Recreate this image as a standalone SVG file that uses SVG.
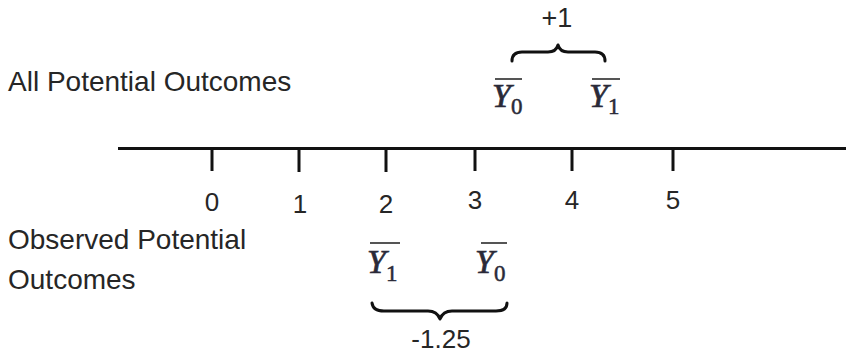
<svg xmlns="http://www.w3.org/2000/svg" width="846" height="356" viewBox="0 0 846 356">
<style>
.lbl{font-family:"Liberation Sans","Open Sans",sans-serif;font-size:28px;fill:#262626}
.num{font-family:"Liberation Sans","Open Sans",sans-serif;font-size:26px;fill:#262626;text-anchor:middle}
.y{font-family:"Liberation Serif","DejaVu Serif",serif;font-style:italic;font-size:34px;fill:#2a2a38;stroke:#2a2a38;stroke-width:0.7}
.sub{font-family:"Liberation Serif","DejaVu Serif",serif;font-size:23px;fill:#2a2a38;stroke:#2a2a38;stroke-width:0.5}
.bar{stroke:#555;stroke-width:2}
.ax{stroke:#111;stroke-width:3;fill:none}
.brace{stroke:#111;stroke-width:3;fill:none;stroke-linecap:round;stroke-linejoin:round}
</style>
<rect width="846" height="356" fill="#fff"/>
<g id="labels">
<text class="lbl" x="8" y="91">All Potential Outcomes</text>
<text class="lbl" x="8" y="249">Observed Potential</text>
<text class="lbl" x="8" y="289">Outcomes</text>
</g>
<g id="axis">
<line class="ax" x1="118" y1="148.5" x2="846" y2="148.5"/>
<line class="ax" x1="212" y1="148" x2="212" y2="171"/>
<line class="ax" x1="299" y1="148" x2="299" y2="172"/>
<line class="ax" x1="386" y1="148" x2="386" y2="172"/>
<line class="ax" x1="475" y1="148" x2="475" y2="171"/>
<line class="ax" x1="572" y1="148" x2="572" y2="171"/>
<line class="ax" x1="673" y1="148" x2="673" y2="171"/>
<text class="num" x="212" y="211">0</text>
<text class="num" x="300" y="213">1</text>
<text class="num" x="386" y="213">2</text>
<text class="num" x="475" y="209">3</text>
<text class="num" x="572" y="209">4</text>
<text class="num" x="673" y="209">5</text>
</g>
<g id="all-outcomes">
<g id="top-Y0">
<line class="bar" x1="495" y1="79" x2="522" y2="79"/>
<text class="y" x="492" y="107">Y</text>
<text class="sub" x="511" y="114">0</text>
</g>
<g id="top-Y1">
<line class="bar" x1="592" y1="79" x2="620" y2="79"/>
<text class="y" x="589" y="107">Y</text>
<text class="sub" x="608" y="114">1</text>
</g>
<g id="top-brace">
<path class="brace" d="M512,61 Q512,52 522,52 L548,52 Q556,52 558,45 Q560,52 568,52 L595,52 Q605,52 605,61"/>
<text class="num" x="557" y="27" style="font-size:27px">+1</text>
</g>
</g>
<g id="observed-outcomes">
<g id="bot-Y1">
<line class="bar" x1="370" y1="243" x2="400" y2="243"/>
<text class="y" x="367" y="273">Y</text>
<text class="sub" x="386" y="281">1</text>
</g>
<g id="bot-Y0">
<line class="bar" x1="481" y1="243" x2="507" y2="243"/>
<text class="y" x="475" y="273">Y</text>
<text class="sub" x="494" y="281">0</text>
</g>
<g id="bot-brace">
<path class="brace" d="M372,303 Q373,311 384,311 L428,311 Q437,311 440,319 Q443,311 452,311 L496,311 Q507,311 507,303"/>
<text class="num" x="441" y="348" style="font-size:26px">-1.25</text>
</g>
</g>
</svg>
